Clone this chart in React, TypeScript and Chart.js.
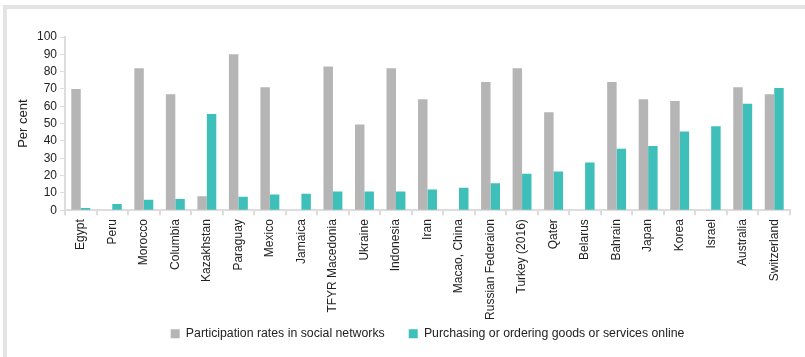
import React, { useEffect, useRef } from "react";
import { Chart, registerables } from "chart.js";

Chart.register(...registerables);

const categories = [
  "Egypt", "Peru", "Morocco", "Columbia", "Kazakhstan", "Paraguay", "Mexico", "Jamaica",
  "TFYR Macedonia", "Ukraine", "Indonesia", "Iran", "Macao, China", "Russian Federaion",
  "Turkey (2016)", "Qater", "Belarus", "Bahrain", "Japan", "Korea", "Israel", "Australia", "Switzerland",
];

const socialNetworks = [70, null, 82, 67, 8, 90, 71, null, 83, 49.5, 82, 64, null, 74, 82, 56.5, null, 74, 64, 63, null, 71, 67];
const onlinePurchasing = [1.3, 3.6, 6, 6.5, 55.5, 7.8, 9, 9.5, 10.8, 10.8, 10.8, 12, 13, 15.5, 21, 22.3, 27.5, 35.5, 37, 45.5, 48.5, 61.5, 70.5];

const seriesNames = ["Participation rates in social networks", "Purchasing or ordering goods or services online"];
const yTicks = [0, 10, 20, 30, 40, 50, 60, 70, 80, 90, 100];

const GRAY = "#b4b5b4";
const TEAL = "#3ebfba";
const AXIS = "#dddddd";
const FONT = "'Liberation Sans', Arial, Helvetica, sans-serif";

const layoutTweaks = {
  id: "layoutTweaks",
  afterLayout(chart: any) {
    const l = chart.legend;
    const ca = chart.chartArea;
    if (l) {
      const shift = (ca.left + ca.right) / 2 - (l.left + l.right) / 2;
      l.left += shift;
      l.right += shift;
    }
    // let the long rotated category labels extend below the x scale box (no clipping)
    const x = chart.scales.x;
    if (x) x.bottom = chart.height;
  },
};

export default function App() {
  const ref = useRef<HTMLCanvasElement | null>(null);

  useEffect(() => {
    if (!ref.current) return;
    const chart = new Chart(ref.current, {
      type: "bar",
      data: {
        labels: categories,
        datasets: [
          { label: seriesNames[0], data: socialNetworks, backgroundColor: GRAY, borderWidth: 0 },
          { label: seriesNames[1], data: onlinePurchasing, backgroundColor: TEAL, borderWidth: 0 },
        ],
      },
      plugins: [layoutTweaks],
      options: {
        responsive: false,
        animation: false,
        layout: { padding: { top: 37, right: 15, bottom: 7, left: 0 } },
        datasets: { bar: { categoryPercentage: 0.6, barPercentage: 1 } },
        plugins: {
          tooltip: { enabled: false },
          legend: {
            position: "bottom",
            labels: {
              boxWidth: 9,
              boxHeight: 9,
              padding: 24,
              color: "#222",
              font: { family: FONT, size: 12.3 },
            },
          },
        },
        scales: {
          x: {
            offset: true,
            afterFit: (s: any) => { s.height = 93.5; },
            grid: { display: true, drawOnChartArea: false, drawTicks: true, tickLength: 5, offset: true, color: AXIS, lineWidth: 2 },
            border: { display: true, color: AXIS, width: 2 },
            ticks: {
              minRotation: 90,
              maxRotation: 90,
              autoSkip: false,
              padding: 4,
              color: "#222",
              font: { family: FONT, size: 12 },
            },
          },
          y: {
            min: 0,
            max: 100,
            afterFit: (s: any) => { s.width = 65; },
            afterBuildTicks: (s: any) => { s.ticks = yTicks.map((v) => ({ value: v })); },
            grid: { display: true, drawOnChartArea: false, drawTicks: true, tickLength: 5, color: AXIS, lineWidth: 1 },
            border: { display: true, color: AXIS, width: 2 },
            ticks: {
              autoSkip: false,
              padding: 3,
              color: "#222",
              font: { family: FONT, size: 12 },
            },
            title: {
              display: true,
              text: "Per cent",
              color: "#222",
              font: { family: FONT, size: 13 },
              padding: { top: 16, bottom: 0 },
            },
          },
        },
      },
    });
    return () => chart.destroy();
  }, []);

  return (
    <div style={{ position: "fixed", left: 0, top: 0, width: 805, height: 357, background: "#fff" }}>
      <div
        style={{
          position: "absolute",
          left: 3,
          top: 5,
          right: 0,
          bottom: 0,
          borderTop: "4px solid #e2e3e2",
          borderLeft: "4px solid #e2e3e2",
        }}
      />
      <canvas ref={ref} width={805} height={357} style={{ position: "absolute", left: 0, top: 0 }} />
    </div>
  );
}
